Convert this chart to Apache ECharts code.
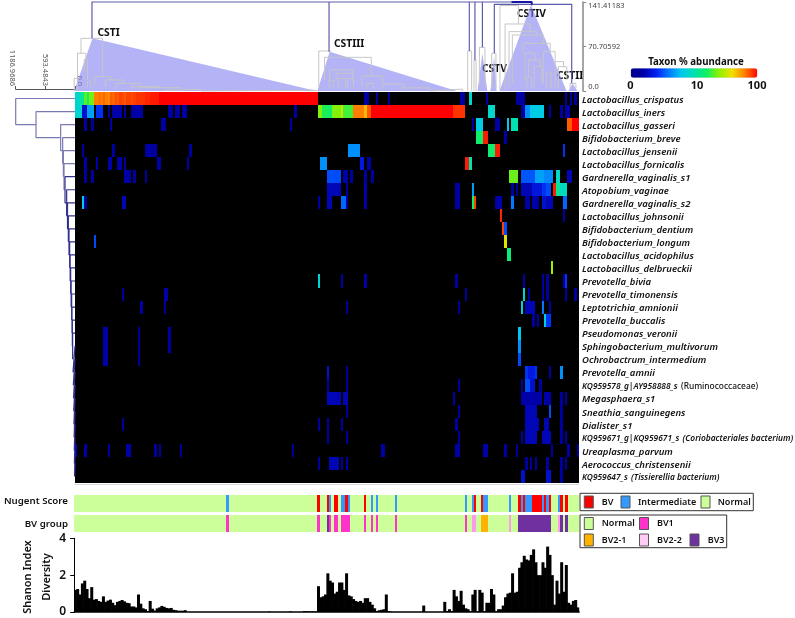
<!DOCTYPE html>
<html><head><meta charset="utf-8">
<style>html,body{margin:0;padding:0;background:#fff}#c{width:795px;height:618px}</style>
<script src="https://cdn.jsdelivr.net/npm/echarts@6/dist/echarts.min.js"></script>
</head><body><div id="c"></div>
<script>
const colCount = 216;
const taxa = ['Lactobacillus_crispatus','Lactobacillus_iners','Lactobacillus_gasseri','Bifidobacterium_breve','Lactobacillus_jensenii','Lactobacillus_fornicalis','Gardnerella_vaginalis_s1','Atopobium_vaginae','Gardnerella_vaginalis_s2','Lactobacillus_johnsonii','Bifidobacterium_dentium','Bifidobacterium_longum','Lactobacillus_acidophilus','Lactobacillus_delbrueckii','Prevotella_bivia','Prevotella_timonensis','Leptotrichia_amnionii','Prevotella_buccalis','Pseudomonas_veronii','Sphingobacterium_multivorum','Ochrobactrum_intermedium','Prevotella_amnii','KQ959578_g|AY958888_s (Ruminococcaceae)','Megasphaera_s1','Sneathia_sanguinegens','Dialister_s1','KQ959671_g|KQ959671_s (Coriobacteriales bacterium)','Ureaplasma_parvum','Aerococcus_christensenii','KQ959647_s (Tissierellia bacterium)'];
// each row: [first sample, last sample, position on the abundance colour scale 0-100]
const row00 = [[0,1,46],[2,3,53],[4,4,66],[5,5,60],[6,7,68],[8,9,90],[10,10,91],[11,11,90],[12,12,92],[13,13,90],[14,14,89],[15,15,93],[16,16,92],[17,17,94],[18,18,93],[19,19,95],[20,20,94],[21,21,93],[22,23,95],[24,24,94],[25,25,95],[26,29,96],[30,31,97],[32,35,98],[36,103,100],[124,125,8],[129,129,8],[134,134,8],[165,166,8],[169,169,46],[176,176,8],[189,192,8],[210,210,8],[212,212,8],[214,214,8]];
const row01 = [[0,2,45],[3,4,15],[5,7,35],[9,11,22],[14,14,8],[16,19,10],[21,21,8],[24,28,10],[40,41,8],[43,44,8],[46,47,8],[94,94,8],[104,105,69],[106,108,61],[109,109,58],[110,113,69],[114,114,76],[115,118,64],[119,123,90],[124,124,84],[125,126,93],[127,161,100],[162,166,96],[177,179,46],[191,192,8],[193,194,33],[195,200,42],[203,203,8],[208,208,8],[210,211,10]];
const row02 = [[4,4,8],[7,7,8],[15,15,8],[37,38,8],[92,92,8],[170,170,8],[172,174,42],[180,181,8],[185,185,40],[187,189,50],[211,212,93],[213,215,100]];
const row03 = [[172,174,59],[175,176,98],[184,184,8]];
const row04 = [[3,3,8],[16,16,8],[30,34,8],[49,49,8],[117,121,33],[177,179,58],[180,181,98],[209,209,22]];
const row05 = [[4,4,8],[9,9,8],[14,15,10],[18,19,10],[21,21,8],[35,36,10],[48,48,8],[105,107,33],[122,123,18],[125,126,10],[167,168,98],[169,169,50]];
const row06 = [[4,4,8],[7,7,8],[21,23,10],[25,25,8],[30,30,8],[108,113,25],[115,116,10],[118,118,8],[124,124,8],[127,127,8],[186,189,67],[191,196,26],[197,200,35],[201,204,32],[206,207,47],[211,212,12]];
const row07 = [[108,113,12],[116,116,8],[124,124,10],[163,164,8],[170,170,35],[187,187,8],[189,189,8],[191,195,12],[196,199,17],[200,201,22],[202,203,25],[205,205,98],[206,207,53],[208,210,48]];
const row08 = [[3,3,42],[4,4,8],[20,21,12],[104,104,8],[108,109,12],[114,115,28],[116,116,8],[124,124,8],[163,164,8],[170,170,60],[171,171,95],[180,182,10],[187,187,30],[193,194,10],[196,198,10],[200,201,15],[202,204,12],[209,210,28]];
const row09 = [[182,182,97],[209,209,8]];
const row10 = [[183,183,95],[184,184,25]];
const row11 = [[8,8,25],[184,184,78]];
const row12 = [[185,186,57]];
const row13 = [[204,204,72]];
const row14 = [[104,104,45],[114,114,8],[124,124,8],[163,163,8],[192,192,8],[200,200,8],[202,202,8],[209,209,8],[210,210,22]];
const row15 = [[20,20,8],[38,39,10],[167,167,8],[192,192,45],[194,194,8],[200,200,8],[202,202,8],[210,210,8],[214,214,8]];
const row16 = [[28,28,8],[38,38,8],[116,116,8],[164,164,8],[191,191,45],[193,196,12],[200,200,30],[203,203,8]];
const row17 = [[196,196,8],[198,198,8],[201,201,42],[202,203,22]];
const row18 = [[12,13,10],[27,27,8],[40,40,8],[190,190,40]];
const row19 = [[12,13,10],[27,27,8],[40,40,8],[190,190,33]];
const row20 = [[12,13,10],[27,27,8],[190,190,25]];
const row21 = [[108,108,15],[116,116,8],[193,193,22],[194,196,18],[197,197,22],[203,203,8],[208,208,33]];
const row22 = [[108,108,8],[116,116,8],[164,164,8],[191,191,8],[193,194,25],[195,196,15],[199,199,8]];
const row23 = [[108,113,12],[115,116,12],[162,162,8],[191,199,10],[201,203,10],[208,208,8],[210,210,8]];
const row24 = [[116,116,8],[164,164,8],[193,197,12],[203,203,25],[208,208,8]];
const row25 = [[20,20,8],[104,104,8],[108,108,8],[114,114,8],[163,163,8],[193,198,12],[201,202,12],[208,208,8]];
const row26 = [[108,108,8],[116,116,8],[164,164,8],[191,191,8],[193,197,12],[200,203,12],[208,208,8],[210,210,8]];
const row27 = [[0,0,10],[4,4,8],[14,14,8],[22,23,10],[34,34,8],[36,36,8],[45,45,8],[93,93,8],[131,132,10],[163,164,10],[175,176,10],[184,184,8],[189,189,8],[204,204,8],[211,211,8],[215,215,8]];
const row28 = [[104,104,8],[109,112,12],[114,114,8],[116,116,8],[193,193,8],[195,195,8],[197,197,8],[202,202,8],[208,208,8],[210,210,8]];
const row29 = [[191,192,15],[202,203,15],[208,208,8]];
const heatRows = [row00,row01,row02,row03,row04,row05,row06,row07,row08,row09,row10,row11,row12,row13,row14,row15,row16,row17,row18,row19,row20,row21,row22,row23,row24,row25,row26,row27,row28,row29];

const stripClasses = ['Normal','BV','Intermediate','BV1','BV2-1','BV2-2','BV3'];
const stripColors = ['#ccff99','#ff0000','#3399ff','#ff33cc','#ffb300','#ff99ee','#7030a0'];
const nugentBV = [104,108,111,112,116,124,171,174,190,192,196,197,198,199,201,203,208,210];
const nugentIntermediate = [65,109,114,115,117,127,129,137,167,170,175,176,186,191,193,194,195,200,202,207];
const groupBV1 = [65,104,109,111,112,114,115,116,117,124,127,129,137,167];
const groupBV21 = [174,175,176];
const groupBV22 = [170,171,186,207];
const groupBV3 = [108,190,191,192,193,194,195,196,197,198,199,200,201,202,203,208,210];

const shannonLeft = [1.2,1.25,.95,1.55,1.7,1.25,.75,1.35,.67,.7,.6,.55,.85,.55,.62,.67,.5,.37,.55,.6,.65,.58,.5,.48,.3,.3,.25,.95,.45,.2,.15,.05,.6,.18,.08,.2,.25,.33,.28,.22,.2,.22,.12,.1,.07,.07,.07,.1];
const shannonMiddle = [[83,.02],[92,.03],[98,.05],[99,.04],[100,.03],[101,.03],[102,.03],[103,.03]];
const shannonRight = [1.4,.8,.85,.95,2.1,1.7,1.6,1.0,1.1,1.6,
 1.6,1.2,2.1,.9,.85,.7,.6,.55,.6,.5,
 .75,.75,.55,.4,.2,.05,.1,.12,.15,.95,
 .05,.02,0,0,0,0,0,0,0,0,
 0,0,0,0,0,.35,0,0,0,0,
 0,0,0,0,.55,.05,.15,.05,1.2,.85,
 .6,1.15,.4,.2,.15,.03,.95,1.2,.03,1.2,
 1.05,.05,.5,.5,1.25,.95,.05,.15,.15,.35,
 .8,1.0,1.05,2.1,1.05,1.1,2.4,2.7,3.05,2.85,
 2.8,3.1,3.4,2.7,2.0,2.0,2.7,2.4,3.55,3.1,
 2.0,.4,1.7,1.0,2.7,1.1,2.55,.5,.4,.6,
 .65,.25];

// sample dendrogram: [left sample, right sample, height, left child height, right child height]
const sampleLinksGrey = [[2.9,12.1,83.7,60,22.8],[1.4,5,60,21.7,50],[4.3,5.7,50,30.7,17.5],[8.6,15.7,22.8,9.5,17.5],[13.3,21.1,17.5,5.8,12],[17.9,28.2,12,2.6,7],[24.3,36.4,7,2.6,5],[27.9,45.7,5.3,2,3],[37.9,54.3,2.6,1,1],[5.7,7.1,15,5,5],[0,1.4,20,0,0],[54.3,103.5,1.2,0,0],
 [104.6,109.6,63.6,7,60],[107.1,127.1,53.5,17.5,22.8],[109.3,119.3,33.4,17.5,25.4],[112,119,28,15,15],[109,111,17,5,5],[113,116,20,5,5],[117,119.5,20,5,5],[123,132,24,8,12],[125,128,12,3,3],[132,141,11,4,5],[140,152,5,1.5,1.5],[152,166,3,0,0],
 [168.3,170,63.6,0,0],[171,171.9,49,0,0],[173.3,175.7,69.4,10,10],[178.6,180.4,60,5,5],
 [182.1,190,135.7,1.6,106.5],[184.3,195,106.5,1.6,94.3],[186,197.9,94.3,7,89],[187.4,200.7,89,12,75.8],[192.1,203.6,75.8,60,62.5],[192.9,197.1,60,17.5,49],[194.3,199.3,49,22.8,38.7],[193.6,195.7,21.7,4,4],[196.7,200,38.7,7,12],[200.7,205.7,62.5,12,46.6],[202.1,203.9,30,4,4],[205.7,209.3,46.6,7,38.7],[207.1,210.7,38.7,4,17.5],[212.1,214.6,12,4,4]];
const sampleLinksNavy = [[7.6,187,141.41,83.7,141.41],[109,109,141.41,62.5,62.5],[169,169,141.41,63.6,63.6],[171.4,171.4,141.41,49,49],[174.6,174.6,141.41,69.4,69.4],[179.7,212.8,137.5,60,12.5],[195.7,195.7,137.5,135.7,135.7]];
const sampleLinksDark = [[187,195.7,141.41,141.41,137.5]];
// clusters: [name, first sample, apex sample, apex height, last sample]
const clusters = [['CSTI',0,7.8,83.7,103.6],['CSTIII',104,109.3,62.5,163.6],['CSTV-a',172.5,174.6,60,176.7],['CSTV-b',178,179.6,54.5,180.7],['CSTIV',181.9,195.4,136.6,210.6],['CSTII',211.4,213.2,12,215.2]];
const sampleAxisTicks = [0,70.70592,141.41183];
const taxonAxisTicks = [0,593.4843,1186.9686];
// taxon dendrogram: merge distance for each rung, from the top row down
const taxonMergeDist = [1186.97,780,287,247,233,220,200,167,150,133,120,107,97,87,77,67,60,53,47,40,34,30,26,22,18,15,12,9,5];

const hScale = ['#000088','#0000a8','#0020f0','#0078ff','#00c8f0','#00e0b0','#10f060','#90f000','#f0e000','#ff8000','#ff0000'];

// ---- build
const heatData = [];
heatRows.forEach((runs,r)=>runs.forEach(([a,b,v])=>{for(let c=a;c<=b;c++)heatData.push([c,r,v]);}));
const cols = Array.from({length:colCount},(_,i)=>i);
function classCol(lists){const o=cols.map(()=>0);lists.forEach(([name,l])=>l.forEach(c=>o[c]=stripClasses.indexOf(name)));return o;}
const nugent = classCol([['BV',nugentBV],['Intermediate',nugentIntermediate]]);
const bvGroup = classCol([['BV1',groupBV1],['BV2-1',groupBV21],['BV2-2',groupBV22],['BV3',groupBV3]]);
const shannon = cols.map(()=>0);
shannonLeft.forEach((v,i)=>shannon[i]=v);
shannonMiddle.forEach(([c,v])=>shannon[c]=v);
shannonRight.forEach((v,i)=>shannon[104+i]=v);
function linkPath(links){const d=[];links.forEach(([a,b,h,ha,hb])=>{d.push([a,ha],[a,h],[b,h],[b,hb],[NaN,NaN]);});return d;}
const taxonPathLight=[],taxonPathDark=[];
taxonMergeDist.forEach((dist,k)=>{
  const next = k+1<taxonMergeDist.length ? taxonMergeDist[k+1] : 0;
  const yB = k+1<taxonMergeDist.length ? k+2.5 : k+1.5;
  (k<=5?taxonPathLight:taxonPathDark).push([0,k+.5],[dist,k+.5],[dist,yB],[next,yB],[NaN,NaN]);
});
function lineSeries(data,color,width,x,y,extra){return Object.assign({type:'line',data,xAxisIndex:x,yAxisIndex:y,showSymbol:false,symbol:'none',silent:true,clip:false,connectNulls:false,lineStyle:{color,width}},extra||{});}
// one crisp cell placed through the axes' own scales
function cellItem(params,api){
  const c=api.coord([api.value(0),api.value(1)]),s=api.size([1,1]);
  const x0=Math.round(c[0]-s[0]/2),x1=Math.round(c[0]+s[0]/2),y0=Math.round(c[1]-s[1]/2),y1=Math.round(c[1]+s[1]/2);
  return {type:'rect',shape:{x:x0,y:y0,width:x1-x0,height:y1-y0},style:{fill:api.visual('color')}};
}
function cellSeries(data,i){return {type:'custom',renderItem:cellItem,data,xAxisIndex:i,yAxisIndex:i,encode:{x:0,y:1},progressive:0,silent:true};}
const F='"Noto Sans",sans-serif';
function txt(t,x,y,o){return {type:'text',x,y,style:Object.assign({text:t,font:`700 10.3px ${F}`,fill:'#111',textAlign:'left',textVerticalAlign:'middle'},o||{})};}
function sw(x,y,c,w,h){return {type:'rect',shape:{x,y,width:w||9,height:h||12},style:{fill:c,stroke:'#555',lineWidth:1}};}
function box(x,y,w,h){return {type:'rect',shape:{x,y,width:w,height:h},style:{fill:'#fff',stroke:'#333',lineWidth:1}};}
const sCol=n=>stripColors[stripClasses.indexOf(n)];
const legF={font:`600 9px ${F}`};

const hide={show:false};
const nb='none';
const option={
 animation:false,backgroundColor:'#fff',
 grid:[
  {left:75,top:92,width:504,height:391,show:true,backgroundColor:'#000',borderWidth:0,outerBoundsMode:nb},
  {left:74.2,top:494.5,width:505,height:17,outerBoundsMode:nb},
  {left:74.2,top:514.5,width:505,height:17,outerBoundsMode:nb},
  {left:74.2,top:538.3,width:505,height:73.7,outerBoundsMode:nb},
  {left:74.2,top:2,width:505,height:89,outerBoundsMode:nb},
  {left:15.7,top:92,width:59.3,height:391,outerBoundsMode:nb}
 ],
 xAxis:[
  {gridIndex:0,type:'category',data:cols,axisLine:{show:true,onZero:false,lineStyle:{color:'#d8d8d8'}},offset:1,axisTick:hide,axisLabel:hide,splitLine:hide},
  {gridIndex:1,type:'category',data:cols,show:false},
  {gridIndex:2,type:'category',data:cols,show:false},
  {gridIndex:3,type:'category',data:cols,axisLine:{show:true,lineStyle:{color:'#000',width:1.5}},axisTick:hide,axisLabel:hide},
  {gridIndex:4,type:'value',min:0,max:colCount,show:false},
  {gridIndex:5,type:'value',inverse:true,min:0,max:1186.9686,position:'top',offset:3,
   axisLine:{show:true,onZero:false,lineStyle:{color:'#555'}},axisTick:{show:true,length:3,lineStyle:{color:'#555'},customValues:taxonAxisTicks},splitLine:hide,
   axisLabel:{show:true,rotate:90,fontSize:7.5,color:'#555',fontFamily:F,margin:3,customValues:taxonAxisTicks,showMinLabel:true,showMaxLabel:true,verticalAlignMinLabel:'bottom',verticalAlignMaxLabel:'top',formatter:v=>v===0?'0.0':String(v)}}
 ],
 yAxis:[
  {gridIndex:0,type:'category',inverse:true,data:taxa,position:'right',axisLine:hide,axisTick:hide,splitLine:hide,
   axisLabel:{show:true,interval:0,margin:3,padding:[3,0,0,0],formatter:n=>{const m=n.match(/^(.*?) (\(.*\))$/);if(!m)return `{i|${n}}`;return `{k|${m[1]}} {${m[2].includes('Rumino')?'n':'k'}|${m[2]}}`;},
    rich:{i:{fontStyle:'italic',fontWeight:600,fontSize:9.5,fontFamily:F,color:'#111'},k:{fontStyle:'italic',fontWeight:600,fontSize:8.4,fontFamily:F,color:'#111'},n:{fontWeight:500,fontSize:8.4,fontFamily:F,color:'#111'}}}},
  {gridIndex:1,type:'category',data:['n'],show:false},
  {gridIndex:2,type:'category',data:['b'],show:false},
  {gridIndex:3,type:'value',min:0,max:4,interval:2,axisLine:{show:true,lineStyle:{color:'#000',width:1}},axisTick:{show:true,length:4,lineStyle:{color:'#000'}},splitLine:hide,
   axisLabel:{fontSize:12,fontWeight:600,color:'#111',fontFamily:F,margin:8}},
  {gridIndex:4,type:'value',min:0,max:141.41183,position:'right',offset:4,
   axisLine:{show:true,onZero:false,lineStyle:{color:'#888',width:1.5}},axisTick:{show:true,length:3,lineStyle:{color:'#888'},customValues:sampleAxisTicks},splitLine:hide,
   axisLabel:{fontSize:7.5,color:'#444',fontFamily:F,margin:5,customValues:sampleAxisTicks,showMinLabel:true,showMaxLabel:true,verticalAlignMinLabel:'bottom',verticalAlignMaxLabel:'top',formatter:v=>v===0?'0.0':String(v)}},
  {gridIndex:5,type:'value',inverse:true,min:0,max:30,show:false}
 ],
 visualMap:[
  {type:'continuous',seriesIndex:0,dimension:2,min:0,max:100,left:630.7,top:68.3,orient:'horizontal',itemWidth:9.5,itemHeight:126.6,padding:0,text:null,showLabel:false,calculable:false,hoverLink:false,realtime:false,inRange:{color:hScale},textStyle:{fontSize:0}},
  {type:'piecewise',show:false,dimension:2,seriesIndex:[1,2],pieces:stripColors.map((c,i)=>({value:i,color:c}))}
 ],
 series:[
  cellSeries(heatData,0),
  cellSeries(nugent.map((v,i)=>[i,0,v]),1),
  cellSeries(bvGroup.map((v,i)=>[i,0,v]),2),
  {type:'bar',data:shannon,xAxisIndex:3,yAxisIndex:3,barWidth:3,itemStyle:{color:'#000'},silent:true},
  lineSeries(linkPath(sampleLinksGrey),'#c6c6c6',1,4,4),
  ...clusters.map(([n,a,c,h,b])=>lineSeries([[a,0],[c,h],[b,0]],'#8484f0',0,4,4,{name:n,areaStyle:{color:'#8080f0',opacity:.6},lineStyle:{width:0}})),
  lineSeries(linkPath(sampleLinksNavy),'#5c5cae',1.2,4,4),
  lineSeries(linkPath(sampleLinksDark),'#1616a0',2,4,4),
  lineSeries(taxonPathLight,'#7a7ab4',1.2,5,5),
  lineSeries(taxonPathDark,'#30308c',1.2,5,5)
 ],
 graphic:{elements:[
  txt('CSTI',97.5,33),txt('CSTIII',334,44),txt('CSTV',482,69),txt('CSTIV',517,14),txt('CSTII',557,76),
  txt('Taxon % abundance',696,62,{textAlign:'center',font:`700 9.7px ${F}`}),
  txt('0',630.5,86,{textAlign:'center',font:`700 11px ${F}`}),txt('10',697,86,{textAlign:'center',font:`700 11px ${F}`}),txt('100',757,86,{textAlign:'center',font:`700 11px ${F}`}),
  txt('Nugent Score',68,501,{textAlign:'right',font:`600 9.7px ${F}`}),txt('BV group',68,524,{textAlign:'right',font:`600 9.7px ${F}`}),
  {type:'text',x:28,y:577,rotation:Math.PI/2,style:{text:'Shanon Index',font:`600 11px ${F}`,fill:'#111',textAlign:'center',textVerticalAlign:'middle'}},
  {type:'text',x:47,y:577,rotation:Math.PI/2,style:{text:'Diversity',font:`600 11px ${F}`,fill:'#111',textAlign:'center',textVerticalAlign:'middle'}},
  box(580,493.3,173.3,17.4),
  sw(584.3,496,sCol('BV')),txt('BV',601.7,502,legF),
  sw(621,496,sCol('Intermediate')),txt('Intermediate',638,502,legF),
  sw(701,496,sCol('Normal')),txt('Normal',717.7,502,legF),
  box(580,515,146.7,32.7),
  sw(584.3,517.5,sCol('Normal')),txt('Normal',601.7,523.5,legF),
  sw(639.5,517.5,sCol('BV1')),txt('BV1',657,523.5,legF),
  sw(584.3,534,sCol('BV2-1')),txt('BV2-1',601.7,540,legF),
  sw(639.5,534,'#ffccf5'),txt('BV2-2',657,540,legF),
  sw(690,534,sCol('BV3')),txt('BV3',707.7,540,legF)
 ]}
};
echarts.init(document.getElementById('c'),null,{renderer:'canvas'}).setOption(option);
</script></body></html>
